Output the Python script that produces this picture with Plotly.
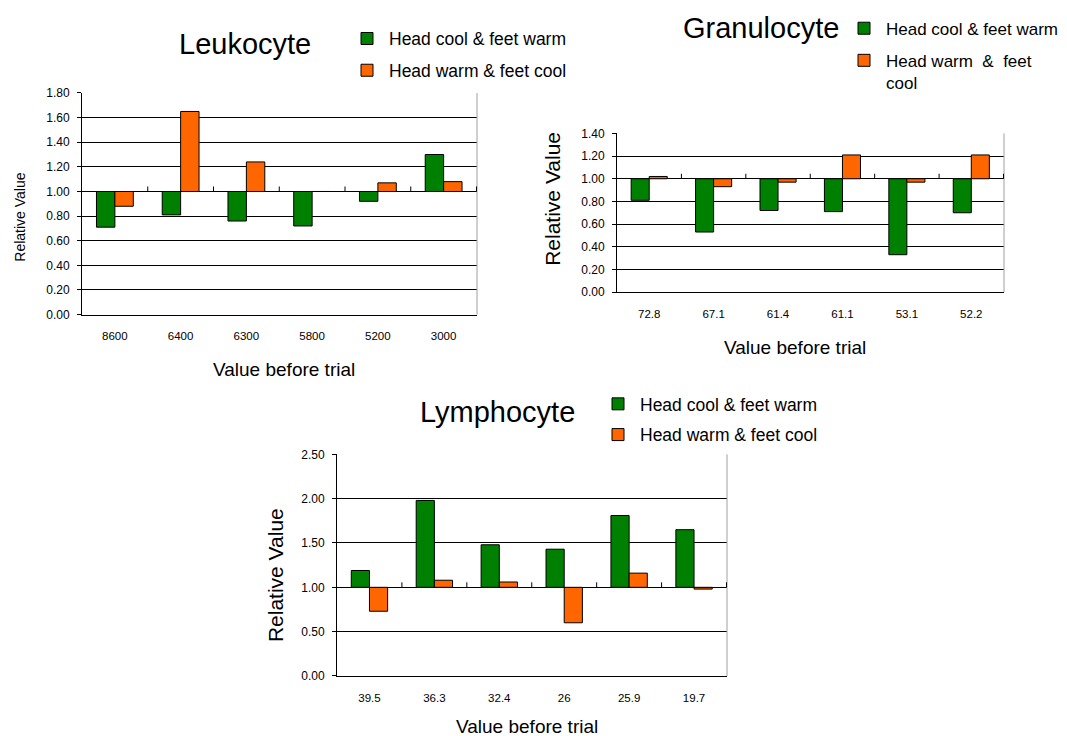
import plotly.graph_objects as go

# ---------------- data ----------------
leuko_cats = ["8600", "6400", "6300", "5800", "5200", "3000"]
leuko_cool_head = [0.71, 0.81, 0.76, 0.72, 0.92, 1.30]
leuko_warm_head = [0.88, 1.65, 1.24, 1.00, 1.07, 1.08]

gran_cats = ["72.8", "67.1", "61.4", "61.1", "53.1", "52.2"]
gran_cool_head = [0.81, 0.53, 0.72, 0.71, 0.33, 0.70]
gran_warm_head = [1.02, 0.93, 0.97, 1.21, 0.97, 1.21]

lymph_cats = ["39.5", "36.3", "32.4", "26", "25.9", "19.7"]
lymph_cool_head = [1.19, 1.98, 1.48, 1.43, 1.81, 1.65]
lymph_warm_head = [0.73, 1.08, 1.06, 0.60, 1.16, 0.98]

series_names = ["Head cool & feet warm", "Head warm & feet cool"]
gran_series_names = ["Head cool & feet warm", "Head warm  &  feet<br>cool"]
BASE = 1.0

GREEN = "#008000"
ORANGE = "#FF6600"
FONT = "Arial, Liberation Sans, sans-serif"

# page has an 8px body margin
OFF = 8
W, H = 1067 - OFF, 736 - OFF
VSTRETCH = 1.015  # small vertical correction measured against the reference
VCENTER = 370


def px(x):
    return (x - OFF) / W


def py(y):
    y = VCENTER + (y - VCENTER) * VSTRETCH
    return 1 - (y - OFF) / H


fig = go.Figure()

panels = [
    dict(cats=leuko_cats, a=leuko_cool_head, b=leuko_warm_head, names=series_names,
         xa="x", ya="y", legend="legend"),
    dict(cats=gran_cats, a=gran_cool_head, b=gran_warm_head, names=gran_series_names,
         xa="x2", ya="y2", legend="legend2"),
    dict(cats=lymph_cats, a=lymph_cool_head, b=lymph_warm_head, names=series_names,
         xa="x3", ya="y3", legend="legend3"),
]

for i, p in enumerate(panels):
    for j, (vals, color) in enumerate([(p["a"], GREEN), (p["b"], ORANGE)]):
        fig.add_trace(go.Bar(
            x=p["cats"], y=[v - BASE for v in vals], base=BASE,
            name=p["names"][j], marker=dict(color=color, line=dict(color="#000", width=1)),
            xaxis=p["xa"], yaxis=p["ya"], legend=p["legend"],
            legendgroup=f"g{i}{j}",
            customdata=vals, hovertemplate="%{x}: %{customdata:.2f}<extra></extra>",
        ))

axis_common_x = dict(type="category", showline=True, linecolor="#000", linewidth=1,
                     showgrid=False, ticks="", tickfont=dict(size=11.5, family=FONT, color="#000"),
                     ticklabelstandoff=11, fixedrange=True)
axis_common_y = dict(showline=True, linecolor="#000", linewidth=1, showgrid=True,
                     gridcolor="#000", gridwidth=1, zeroline=False, ticks="outside",
                     ticklen=4, tickcolor="#000", tickformat=".2f",
                     tickfont=dict(size=12, family=FONT, color="#000"),
                     ticklabelstandoff=5, fixedrange=True)

legend_common = dict(xanchor="left", yanchor="top", bgcolor="rgba(0,0,0,0)",
                     itemclick=False, itemwidth=34, valign="top")

fig.update_layout(
    width=W, height=H,
    margin=dict(l=0, r=0, t=0, b=0),
    paper_bgcolor="white", plot_bgcolor="white",
    font=dict(family=FONT, color="#000"),
    barmode="group", bargap=0.44, bargroupgap=0,
    xaxis=dict(domain=[px(82), px(477)], anchor="y", **axis_common_x),
    yaxis=dict(domain=[py(314.3), py(91.7)], anchor="x", range=[0, 1.8], dtick=0.2, **axis_common_y),
    xaxis2=dict(domain=[px(617), px(1004)], anchor="y2", **axis_common_x),
    yaxis2=dict(domain=[py(291.7), py(132.3)], anchor="x2", range=[0, 1.4], dtick=0.2, **axis_common_y),
    xaxis3=dict(domain=[px(337), px(727)], anchor="y3", **axis_common_x),
    yaxis3=dict(domain=[py(677.3), py(454.7)], anchor="x3", range=[0, 2.5], dtick=0.5, **axis_common_y),
    legend=dict(x=px(345), y=py(19), tracegroupgap=6,
                font=dict(size=17.5, family=FONT), **legend_common),
    legend2=dict(x=px(842), y=py(9), tracegroupgap=7,
                 font=dict(size=17, family=FONT), **legend_common),
    legend3=dict(x=px(596), y=py(386), tracegroupgap=5,
                 font=dict(size=17.5, family=FONT), **legend_common),
    showlegend=True,
)

# Titles and axis titles
annotations = [
    dict(text="Leukocyte", x=px(245), y=py(42), font=dict(size=29)),
    dict(text="Granulocyte", x=px(761), y=py(26), font=dict(size=29)),
    dict(text="Lymphocyte", x=px(497), y=py(412), font=dict(size=29)),
    dict(text="Value before trial", x=px(284), y=py(369), font=dict(size=19)),
    dict(text="Value before trial", x=px(795), y=py(347), font=dict(size=19)),
    dict(text="Value before trial", x=px(527), y=py(728), font=dict(size=19)),
    dict(text="Relative Value", x=px(20), y=py(217), font=dict(size=14), textangle=-90),
    dict(text="Relative Value", x=px(553), y=py(198), font=dict(size=21), textangle=-90),
    dict(text="Relative Value", x=px(275), y=py(576), font=dict(size=21), textangle=-90),
]
for a in annotations:
    a.update(xref="paper", yref="paper", showarrow=False, xanchor="center", yanchor="middle")
    a["font"].update(family=FONT, color="#000")
fig.update_layout(annotations=annotations)

# Right gray border and category separators on the 1.00 line
shapes = []
for xa, ya, cats in [("x", "y", leuko_cats), ("x2", "y2", gran_cats), ("x3", "y3", lymph_cats)]:
    shapes.append(dict(type="line", xref=f"{xa} domain", yref=f"{ya} domain",
                       x0=1, x1=1, y0=0, y1=1, line=dict(color="#A0A0A0", width=1)))
    for k in range(len(cats)):
        shapes.append(dict(type="line", xref=xa, yref=ya, x0=k + 0.5, x1=k + 0.5,
                           ysizemode="pixel", yanchor=BASE, y0=0, y1=5,
                           line=dict(color="#000", width=1)))
fig.update_layout(shapes=shapes)

fig.write_html("out.html")
